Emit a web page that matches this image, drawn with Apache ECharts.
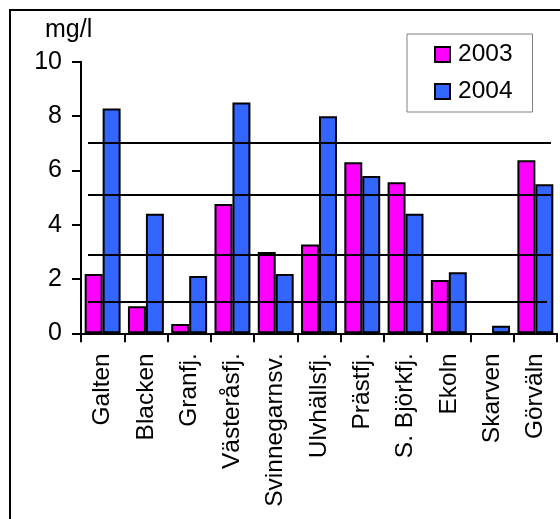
<!DOCTYPE html>
<html><head><meta charset="utf-8">
<script src="https://cdn.jsdelivr.net/npm/echarts@6/dist/echarts.min.js"></script>
<style>html,body{margin:0;padding:0;background:#fff}#c{width:560px;height:519px}</style>
</head><body><div id="c"></div>
<script>
const categories = ['Galten','Blacken','Granfj.','Västeråsfj.','Svinnegarnsv.','Ulvhällsfj.','Prästfj.','S. Björkfj.','Ekoln','Skarven','Görväln'];
const values2003 = [2.18, 1.0, 0.34, 4.76, 2.99, 3.27, 6.30, 5.56, 1.96, null, 6.37];
const values2004 = [8.28, 4.40, 2.11, 8.50, 2.18, 7.99, 5.79, 4.40, 2.25, 0.28, 5.49];
const seriesNames = ['2003', '2004'];
const refLines = [7.0, 5.1, 2.9, 1.15];
const yTicks = {min: 0, max: 10, interval: 2};

const FONT = 'Liberation Sans, Arial, sans-serif';
const chart = echarts.init(document.getElementById('c'), null, {renderer: 'canvas'});
const refData = refLines.map((v, i) => [
  {yAxis: v, x: 88},
  {yAxis: v, x: i === refLines.length - 1 ? 547 : 551}
]);
chart.setOption({
  animation: false,
  title: {text: 'mg/l', left: 45, top: 18, padding: 0, textStyle: {fontFamily: FONT, fontSize: 25, fontWeight: 'normal', color: '#000'}},
  graphic: [{type: 'rect', shape: {x: 10, y: 10, width: 700, height: 700}, style: {fill: 'none', stroke: '#000', lineWidth: 2}, silent: true, z: 100}],
  legend: {
    orient: 'vertical', left: 407, top: 34,
    padding: [8, 20, 8, 27],
    itemWidth: 15, itemHeight: 15, itemGap: 12,
    borderColor: '#808080', borderWidth: 1,
    icon: 'rect',
    textStyle: {fontFamily: FONT, fontSize: 24.5, color: '#000', padding: [0, 0, 0, 3]},
    data: seriesNames
  },
  grid: {left: 81, right: 3, top: 61.7, bottom: 185.7},
  xAxis: {
    type: 'category', data: categories,
    axisLine: {lineStyle: {color: '#000', width: 2}},
    axisTick: {show: true, length: 9, interval: 0, lineStyle: {color: '#000', width: 2}},
    axisLabel: {rotate: 90, interval: 0, margin: 20, fontFamily: FONT, fontSize: 24.5, color: '#000'}
  },
  yAxis: {
    type: 'value', min: yTicks.min, max: yTicks.max, interval: yTicks.interval,
    splitLine: {show: false},
    axisLine: {show: true, lineStyle: {color: '#000', width: 2}},
    axisTick: {show: true, length: 9, lineStyle: {color: '#000', width: 2}},
    axisLabel: {margin: 19, fontFamily: FONT, fontSize: 25, color: '#000'}
  },
  series: [
    {name: seriesNames[0], type: 'bar', data: values2003, barGap: '0%', barCategoryGap: '17%',
     itemStyle: {color: '#FF00FF', borderColor: '#000', borderWidth: 2}},
    {name: seriesNames[1], type: 'bar', data: values2004, barGap: '0%', barCategoryGap: '17%',
     itemStyle: {color: '#3366FF', borderColor: '#000', borderWidth: 2},
     markLine: {silent: true, symbol: 'none', label: {show: false}, lineStyle: {color: '#000', width: 2, type: 'solid'}, z: 10, data: refData}}
  ]
});
</script></body></html>
